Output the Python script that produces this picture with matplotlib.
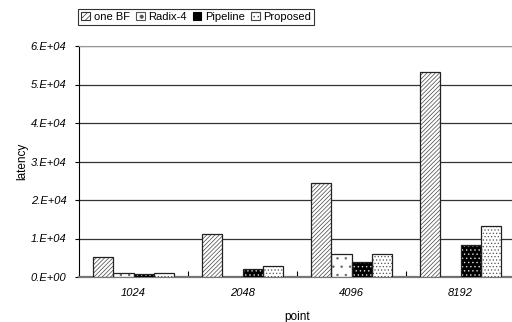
import numpy as np
import matplotlib
matplotlib.use("Agg")
import matplotlib.pyplot as plt
from matplotlib.ticker import FuncFormatter, FixedLocator
from matplotlib.patches import Patch

plt.rcParams['font.family'] = ['Liberation Sans', 'DejaVu Sans']
plt.rcParams['hatch.linewidth'] = 0.5

points = ['1024', '2048', '4096', '8192']
one_bf = [5100, 11200, 24500, 53200]
radix4 = [1100, 0, 6000, 0]
pipeline = [750, 2100, 3900, 8300]
proposed = [1000, 2900, 6000, 13200]


def sci(v, pos):
    if v == 0:
        return '0.E+00'
    e = int(np.floor(np.log10(abs(v))))
    m = v / 10**e
    return '%d.E+%02d' % (round(m), e)


fig = plt.figure(figsize=(5.12, 3.22), dpi=100)
ax = fig.add_axes([79/512, 45/322, (515-79)/512, (277-46)/322])

x = np.arange(len(points))
w = 0.185
offs = [-1.5*w, -0.5*w, 0.5*w, 1.5*w]

styles = [
    dict(facecolor='white', edgecolor='#444444', hatch='////////'),
    dict(facecolor='white', edgecolor='#666666', hatch='..'),
    dict(facecolor='black', edgecolor='#dddddd', hatch='....'),
    dict(facecolor='white', edgecolor='#555555', hatch='.....'),
]
series = [one_bf, radix4, pipeline, proposed]
for vals, off, st in zip(series, offs, styles):
    ax.bar(x + off, vals, w, linewidth=0, zorder=3, **st)
    ax.bar(x + off, vals, w, fill=False, edgecolor='#222222', linewidth=0.9, zorder=4)

# legend proxies
handles = [
    Patch(facecolor='white', edgecolor='#333333', hatch='//////', linewidth=0.8),
    Patch(facecolor='white', edgecolor='#555555', hatch='.', linewidth=0.8),
    Patch(facecolor='black', edgecolor='black', linewidth=0.8),
    Patch(facecolor='white', edgecolor='#444444', hatch='....', linewidth=0.8),
]
leg = fig.legend(handles, ['one BF', 'Radix-4', 'Pipeline', 'Proposed'],
                 loc='center left', bbox_to_anchor=(78/512, 1 - 17/322),
                 ncol=4, fontsize=8, frameon=True, fancybox=False,
                 handlelength=0.8, handleheight=0.8, handletextpad=0.3,
                 columnspacing=0.55, borderpad=0.3, borderaxespad=0)
leg.get_frame().set_edgecolor('black')
leg.get_frame().set_linewidth(0.8)

ax.set_xlim(-0.5, 3.5)
ax.set_ylim(0, 60000)
ax.set_yticks(np.arange(0, 60001, 10000))
ax.yaxis.set_major_formatter(FuncFormatter(sci))
ax.yaxis.grid(True, color='#333333', linewidth=0.9, zorder=0)
ax.set_axisbelow(True)

ax.set_xticks(x)
ax.set_xticklabels(points)
ax.xaxis.set_minor_locator(FixedLocator([0.5, 1.5, 2.5]))
ax.tick_params(axis='x', which='major', length=0, pad=8, labelsize=8)
ax.tick_params(axis='x', which='minor', length=4, direction='in', width=0.8)
ax.tick_params(axis='y', length=3, direction='out', pad=6, labelsize=8)
for lab in ax.get_xticklabels() + ax.get_yticklabels():
    lab.set_fontstyle('italic')

for s in ['top', 'right']:
    ax.spines[s].set_color('#999999')
ax.spines['bottom'].set_color('#777777')
ax.spines['bottom'].set_linewidth(1.6)
ax.spines['left'].set_color('black')

ax.set_ylabel('latency', fontsize=8.5, labelpad=2)
ax.set_xlabel('point', fontsize=8.5, labelpad=9)

fig.savefig('out.png', dpi=100)
